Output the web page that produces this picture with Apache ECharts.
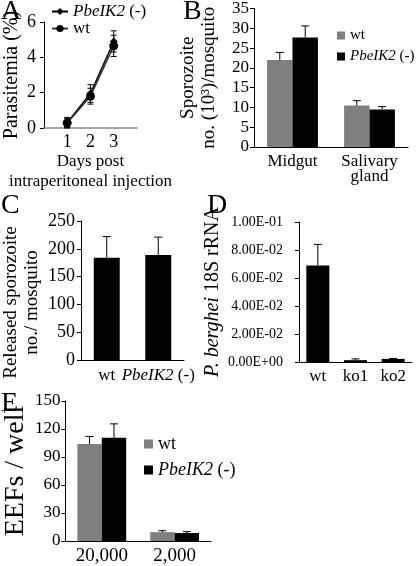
<!DOCTYPE html>
<html><head><meta charset="utf-8">
<script src="https://cdn.jsdelivr.net/npm/echarts@6/dist/echarts.min.js"></script>
<style>html,body{margin:0;padding:0;background:#fff}#c{width:417px;height:566px}</style>
</head><body><div id="c"></div>
<script>
// ---------- Panel A ----------
const aDays = [1, 2, 3];
const aKo = [0.3, 1.95, 4.9];
const aKoErr = [0.3, 0.5, 0.6];
const aWt = [0.28, 1.8, 4.65];
const aWtErr = [0.25, 0.45, 0.6];
// ---------- Panel B ----------
const bCats = ['Midgut', 'Salivary\ngland'];
const bWt = [22, 10.5];
const bWtErr = [1.9, 1.2];
const bKo = [27.7, 9.5];
const bKoErr = [2.9, 0.7];
// ---------- Panel C ----------
const cCats = ['wt', 'PbeIK2 (-)'];
const cVals = [184, 189];
const cErr = [38, 32];
// ---------- Panel D ----------
const dCats = ['wt', 'ko1', 'ko2'];
const dVals = [0.069, 0.0013, 0.0022];
const dErr = [0.015, 0.0009, 0.0003];
// ---------- Panel E ----------
const eCats = ['20,000', '2,000'];
const eWt = [104, 9.5];
const eWtErr = [8, 1.5];
const eKo = [110.5, 8.5];
const eKoErr = [15, 1.5];
// ---------- labels ----------
const panelLetters = ['A', 'B', 'C', 'D', 'E'];
const legendNames = {'A-ko': '{i|PbeIK2} (-)', 'A-wt': 'wt', 'B-wt': 'wt', 'B-ko': '{i|PbeIK2} (-)', 'E-wt': 'wt', 'E-ko': '{i|PbeIK2} (-)'};

const FONT = '"Liberation Serif", "Times New Roman", serif';
const GRAY = '#7f7f7f';
const italicRich = (size) => ({ i: { fontStyle: 'italic', fontFamily: FONT, fontSize: size, color: '#000' } });

function errRender(offsetFrac, cap, both) {
  return function (params, api) {
    const x = api.value(0), lo = api.value(1), hi = api.value(2);
    const band = api.size([1, 0])[0];
    const pHi = api.coord([x, hi]);
    const pLo = api.coord([x, lo]);
    const cx = pHi[0] + offsetFrac * band;
    const style = { stroke: '#000', lineWidth: 1 };
    const children = [
      { type: 'line', shape: { x1: cx, y1: pHi[1], x2: cx, y2: pLo[1] }, style },
      { type: 'line', shape: { x1: cx - cap, y1: pHi[1], x2: cx + cap, y2: pHi[1] }, style }
    ];
    if (both) children.push({ type: 'line', shape: { x1: cx - cap, y1: pLo[1], x2: cx + cap, y2: pLo[1] }, style });
    return { type: 'group', children };
  };
}
function upErr(cats, vals, errs) { return cats.map((c, i) => [i, vals[i], vals[i] + errs[i]]); }
function bothErr(xs, vals, errs) { return xs.map((x, i) => [x, vals[i] - errs[i], vals[i] + errs[i]]); }

function yAx(gi, min, max, interval, name, nameGap, fs, opts, pad) {
  return Object.assign({
    type: 'value', gridIndex: gi, min, max, interval, name, nameLocation: 'middle', nameGap,
    nameTextStyle: { fontFamily: FONT, fontSize: fs, color: '#000', lineHeight: fs + 2, rich: italicRich(fs), padding: pad || 0 },
    axisLine: { show: true, lineStyle: { color: '#000', width: 1 } },
    axisTick: { show: true, length: 4, lineStyle: { color: '#000' } },
    splitLine: { show: false },
    axisLabel: { fontFamily: FONT, fontSize: 16, color: '#000', margin: 6 }
  }, opts || {});
}
function xCat(gi, data, fs, margin, lh) {
  return {
    type: 'category', gridIndex: gi, data,
    axisLine: { show: true, lineStyle: { color: '#000', width: 1 } },
    axisTick: { show: false },
    axisLabel: { fontFamily: FONT, fontSize: fs, color: '#000', margin, lineHeight: lh || fs,
      interval: 0, formatter: v => v.replace('PbeIK2', '{i|PbeIK2}'), rich: italicRich(fs) }
  };
}
const legendText = (fs) => ({ fontFamily: FONT, fontSize: fs, color: '#000', rich: italicRich(fs) });

const option = {
  animation: false,
  backgroundColor: '#fff',
  textStyle: { fontFamily: FONT },
  grid: [
    { left: 42, top: 22, width: 95, height: 106 },
    { left: 254, top: 6, width: 154, height: 141 },
    { left: 76, top: 221, width: 108, height: 139 },
    { left: 299, top: 222, width: 113, height: 140 },
    { left: 55, top: 401, width: 156, height: 141 }
  ],
  xAxis: [
    { type: 'value', gridIndex: 0, min: 0, max: 4, interval: 1,
      name: 'Days post\nintraperitoneal injection', nameLocation: 'middle', nameGap: 21,
      nameTextStyle: { fontFamily: FONT, fontSize: 17, color: '#000', lineHeight: 20 },
      axisLine: { show: true, lineStyle: { color: '#888', width: 1.5 } },
      axisTick: { show: false }, splitLine: { show: false },
      axisLabel: { fontFamily: FONT, fontSize: 18, color: '#000', margin: 5,
        formatter: v => (v >= 1 && v <= 3) ? String(v) : '' } },
    xCat(1, bCats, 17, 7, 15),
    xCat(2, cCats, 17, 7),
    xCat(3, dCats, 17, 6),
    xCat(4, eCats, 19, 6)
  ],
  yAxis: [
    yAx(0, 0, 6, 2, 'Parasitemia (%)', 20, 20, { axisLabel: { fontFamily: FONT, fontSize: 18, color: '#000', margin: 8 } }),
    yAx(1, 0, 35, 5, 'Sporozoite\nno. (10³)/mosquito', 34, 19, { axisLabel: { fontFamily: FONT, fontSize: 17, color: '#000', margin: 5 } }),
    yAx(2, 0, 250, 50, 'Released sporozoite\nno./ mosquito', 38, 19, { axisLabel: { fontFamily: FONT, fontSize: 18, color: '#000', margin: 6 } }, [0, 24, 0, 0]),
    yAx(3, 0, 0.1, 0.02, '{i|P. berghei} 18S rRNA', 74, 20, {
      axisLabel: { fontFamily: FONT, fontSize: 14, color: '#000', margin: 16,
        formatter: v => { const p = Number(v).toExponential(2).split('e'); const s = p[1][0]; const d = p[1].slice(1).padStart(2, '0'); return p[0] + 'E' + s + d; } } }),
    yAx(4, 0, 150, 30, 'EEFs / well', 25, 28, { axisLabel: { fontFamily: FONT, fontSize: 17, color: '#000', margin: 5 } })
  ],
  legend: [
    { orient: 'vertical', left: 46, top: -2, itemWidth: 16, itemHeight: 9, itemGap: 0,
      data: ['A-ko', 'A-wt'], formatter: n => legendNames[n], textStyle: legendText(17) },
    { orient: 'vertical', left: 332, top: 23, itemWidth: 8, itemHeight: 8, itemGap: 6, icon: 'rect',
      data: ['B-wt', 'B-ko'], formatter: n => legendNames[n], textStyle: legendText(15) },
    { orient: 'vertical', left: 139, top: 430, itemWidth: 9, itemHeight: 9, itemGap: 8, icon: 'rect',
      data: ['E-wt', 'E-ko'], formatter: n => legendNames[n], textStyle: legendText(18) }
  ],
  graphic: panelLetters.map((t, i) => ({
    type: 'text', left: [1, 183, 1, 207, 1][i], top: [-2, -2, 192, 192, 390][i],
    style: { text: t, font: '28px "Liberation Serif"', fill: '#000' }
  })),
  series: [
    // Panel A
    { name: 'A-ko', type: 'line', xAxisIndex: 0, yAxisIndex: 0, data: aDays.map((d, i) => [d, aKo[i]]),
      symbol: 'diamond', symbolSize: 8, itemStyle: { color: '#000' }, lineStyle: { color: '#000', width: 1.5 }, z: 3 },
    { name: 'A-wt', type: 'line', xAxisIndex: 0, yAxisIndex: 0, data: aDays.map((d, i) => [d, aWt[i]]),
      symbol: 'circle', symbolSize: 9, itemStyle: { color: '#000' }, lineStyle: { color: '#333', width: 1.5 }, z: 3 },
    { type: 'custom', xAxisIndex: 0, yAxisIndex: 0, renderItem: errRender(0, 3, true), data: bothErr(aDays, aKo, aKoErr), z: 4 },
    { type: 'custom', xAxisIndex: 0, yAxisIndex: 0, renderItem: errRender(0, 3, true), data: bothErr(aDays, aWt, aWtErr), z: 4 },
    // Panel B
    { name: 'B-wt', type: 'bar', xAxisIndex: 1, yAxisIndex: 1, data: bWt, itemStyle: { color: GRAY }, barGap: '0%', barCategoryGap: '34%' },
    { name: 'B-ko', type: 'bar', xAxisIndex: 1, yAxisIndex: 1, data: bKo, itemStyle: { color: '#000' }, barGap: '0%', barCategoryGap: '34%' },
    { type: 'custom', xAxisIndex: 1, yAxisIndex: 1, renderItem: errRender(-0.165, 4, false), data: upErr(bCats, bWt, bWtErr), z: 4 },
    { type: 'custom', xAxisIndex: 1, yAxisIndex: 1, renderItem: errRender(0.165, 4, false), data: upErr(bCats, bKo, bKoErr), z: 4 },
    // Panel C
    { name: 'C', type: 'bar', xAxisIndex: 2, yAxisIndex: 2, data: cVals, itemStyle: { color: '#000' }, barWidth: 26 },
    { type: 'custom', xAxisIndex: 2, yAxisIndex: 2, renderItem: errRender(0, 4, false), data: upErr(cCats, cVals, cErr), z: 4 },
    // Panel D
    { name: 'D', type: 'bar', xAxisIndex: 3, yAxisIndex: 3, data: dVals, itemStyle: { color: '#000' }, barWidth: 23 },
    { type: 'custom', xAxisIndex: 3, yAxisIndex: 3, renderItem: errRender(0, 4, false), data: upErr(dCats, dVals, dErr), z: 4 },
    // Panel E
    { name: 'E-wt', type: 'bar', xAxisIndex: 4, yAxisIndex: 4, data: eWt, itemStyle: { color: GRAY }, barGap: '0%', barCategoryGap: '33%' },
    { name: 'E-ko', type: 'bar', xAxisIndex: 4, yAxisIndex: 4, data: eKo, itemStyle: { color: '#000' }, barGap: '0%', barCategoryGap: '33%' },
    { type: 'custom', xAxisIndex: 4, yAxisIndex: 4, renderItem: errRender(-0.1675, 4, false), data: upErr(eCats, eWt, eWtErr), z: 4 },
    { type: 'custom', xAxisIndex: 4, yAxisIndex: 4, renderItem: errRender(0.1675, 4, false), data: upErr(eCats, eKo, eKoErr), z: 4 }
  ]
};
const chart = echarts.init(document.getElementById('c'), null, { renderer: 'canvas' });
chart.setOption(option);
</script></body></html>
